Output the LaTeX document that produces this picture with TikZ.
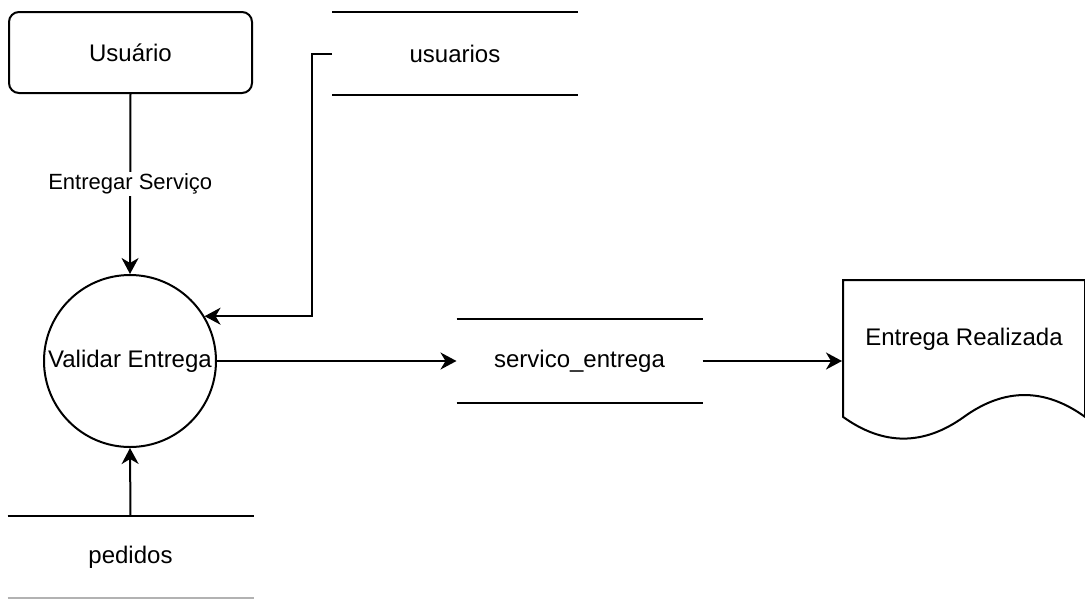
\documentclass[tikz,border=0pt]{standalone}
\usepackage{fontspec}
\setmainfont{Liberation Sans}
\usetikzlibrary{arrows.meta,calc}
\begin{document}
\begin{tikzpicture}[x=1pt,y=-1pt,
  line width=2pt,
  every node/.style={font=\fontsize{24}{28}\selectfont, inner sep=0pt},
  entity/.style={draw, rounded corners=10pt, minimum width=243pt, minimum height=81pt},
  process/.style={draw, circle, minimum size=172pt},
  store/.style={minimum width=244pt, minimum height=81pt},
  docnode/.style={minimum width=242pt, minimum height=161pt, text depth=47pt},
  arr/.style={-{Stealth[length=16pt,width=17pt,inset=5pt]}},
  flowlabel/.style={fill=white, font=\fontsize{22}{26}\selectfont, inner sep=2pt}
]
\useasboundingbox (0,0) rectangle (1085,598);

\node[entity] (usuario) at (130.5,52.5) {Usuário};
\node[store] (usuarios) at (455,53.5) {usuarios};
\draw (usuarios.north west) -- (usuarios.north east);
\draw (usuarios.south west) -- (usuarios.south east);

\node[process] (val) at (130,361) {Validar Entrega};

\node[store, minimum height=82pt] (serv) at (579.5,361) {servico\_entrega};
\draw (serv.north west) -- (serv.north east);
\draw (serv.south west) -- (serv.south east);

\node[store, minimum height=80pt] (ped) at (130.5,557) {pedidos};
\draw (ped.north west) -- (ped.north east);
\draw[black!30] (ped.south west) -- (ped.south east);

\node[docnode] (doc) at (964,360.5) {Entrega Realizada};
\draw (843,280) -- (1085,280) -- (1085,416.85)
  .. controls (1044.67,387.75) and (1004.33,387.75) .. (964,416.85)
  .. controls (923.67,445.82) and (883.33,445.82) .. (843,416.85) -- cycle;

\draw[arr] (usuario.south) -- node[flowlabel] {Entregar Serviço} (val.north);
\draw[arr] (usuarios.west) -- ++(-20,0) |- (val.31.5);
\draw[arr] (val.east) -- (serv.west);
\draw[arr] (serv.east) -- (serv.east -| doc.west);
\draw[arr] (ped.north) -- (val.south);
\end{tikzpicture}
\end{document}
